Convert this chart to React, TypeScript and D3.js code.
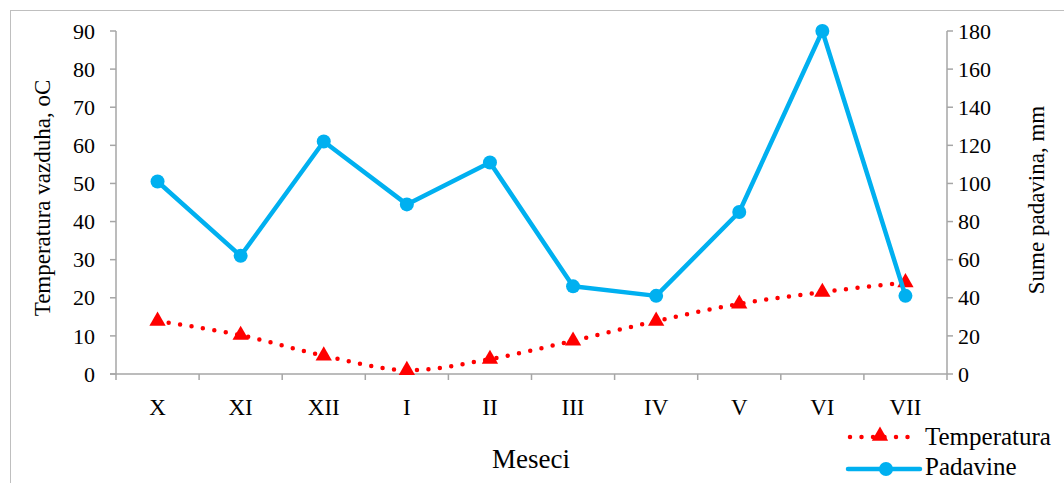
import React from "react";
import * as d3 from "d3";

const categories = ["X", "XI", "XII", "I", "II", "III", "IV", "V", "VI", "VII"];
const temperatura = [13.9, 10.2, 4.8, 1.0, 3.9, 8.7, 13.9, 18.4, 21.5, 24.0];
const padavine = [101, 62, 122, 89, 111, 46, 41, 85, 180, 41];
const leftTicks = [0, 10, 20, 30, 40, 50, 60, 70, 80, 90];
const rightTicks = [0, 20, 40, 60, 80, 100, 120, 140, 160, 180];

const W = 1064, H = 483;
const L = 116, R = 947, T = 31, B = 374;
const FONT = "'Liberation Serif', 'DejaVu Serif', serif";
const AX = "#A6A6A6";

export default function App() {
  const x = d3.scaleBand<string>().domain(categories).range([L, R]);
  const yL = d3.scaleLinear().domain([0, 90]).range([B, T]);
  const yR = d3.scaleLinear().domain([0, 180]).range([B, T]);
  const cx = (c: string) => (x(c) as number) + x.bandwidth() / 2;

  const tempLine = d3.line<number>().x((_, i) => cx(categories[i])).y((d) => yL(d)).curve(d3.curveCatmullRom.alpha(0));
  const rainLine = d3.line<number>().x((_, i) => cx(categories[i])).y((d) => yR(d));
  const tri = d3.symbol().type(d3.symbolTriangle).size(115)();

  const bounds = categories.map((c) => x(c) as number).concat([R]);

  return (
    <svg width={W} height={H} style={{ position: "absolute", left: 0, top: 0 }} fontFamily={FONT}>
      <rect x={10.5} y={10.5} width={W} height={H} fill="white" stroke="#BFBFBF" strokeWidth={1} />
      {/* left axis */}
      <line x1={L} x2={L} y1={T} y2={B} stroke={AX} strokeWidth={1.5} />
      {leftTicks.map((t) => (
        <g key={"l" + t}>
          <line x1={L - 6} x2={L} y1={yL(t)} y2={yL(t)} stroke={AX} strokeWidth={1.5} />
          <text x={95} y={yL(t)} dy="0.35em" textAnchor="end" fontSize={22} fill="#000">{t}</text>
        </g>
      ))}
      {/* right axis */}
      <line x1={R} x2={R} y1={T} y2={B} stroke={AX} strokeWidth={1.5} />
      {rightTicks.map((t) => (
        <g key={"r" + t}>
          <line x1={R} x2={R + 6} y1={yR(t)} y2={yR(t)} stroke={AX} strokeWidth={1.5} />
          <text x={958} y={yR(t)} dy="0.35em" textAnchor="start" fontSize={22} fill="#000">{t}</text>
        </g>
      ))}
      {/* bottom axis */}
      <line x1={L - 6} x2={R} y1={B} y2={B} stroke={AX} strokeWidth={1.5} />
      {bounds.map((b, i) => (
        <line key={"b" + i} x1={b} x2={b} y1={B} y2={B + 6} stroke={AX} strokeWidth={1.5} />
      ))}
      {categories.map((c) => (
        <text key={c} x={cx(c)} y={407} dy="0.35em" textAnchor="middle" fontSize={23}>{c}</text>
      ))}
      {/* titles */}
      <text transform={`translate(42,198) rotate(-90)`} textAnchor="middle" dy="0.35em" fontSize={23}>Temperatura vazduha, oC</text>
      <text transform={`translate(1036,200) rotate(-90)`} textAnchor="middle" dy="0.35em" fontSize={23}>Sume padavina, mm</text>
      <text x={531} y={459} dy="0.35em" textAnchor="middle" fontSize={27}>Meseci</text>

      {/* temperature */}
      <path d={tempLine(temperatura) || ""} fill="none" stroke="#FF0000" strokeWidth={4.5} strokeLinecap="round" strokeDasharray="0 11.5" />
      {temperatura.map((v, i) => (
        <path key={"t" + i} d={tri || ""} transform={`translate(${cx(categories[i])},${yL(v)})`} fill="#FF0000" />
      ))}
      {/* rain */}
      <path d={rainLine(padavine) || ""} fill="none" stroke="#00B0F0" strokeWidth={4.5} strokeLinejoin="round" />
      {padavine.map((v, i) => (
        <circle key={"p" + i} cx={cx(categories[i])} cy={yR(v)} r={7} fill="#00B0F0" />
      ))}

      {/* legend */}
      <line x1={850} x2={910} y1={437} y2={437} stroke="#FF0000" strokeWidth={4.5} strokeLinecap="round" strokeDasharray="0 11.5" />
      <path d={tri || ""} transform={`translate(880,436)`} fill="#FF0000" />
      <text x={925} y={436} dy="0.35em" fontSize={25}>Temperatura</text>
      <line x1={848} x2={920} y1={469} y2={469} stroke="#00B0F0" strokeWidth={4.5} strokeLinecap="round" />
      <circle cx={886} cy={469} r={7} fill="#00B0F0" />
      <text x={925} y={466} dy="0.35em" fontSize={25}>Padavine</text>
    </svg>
  );
}
